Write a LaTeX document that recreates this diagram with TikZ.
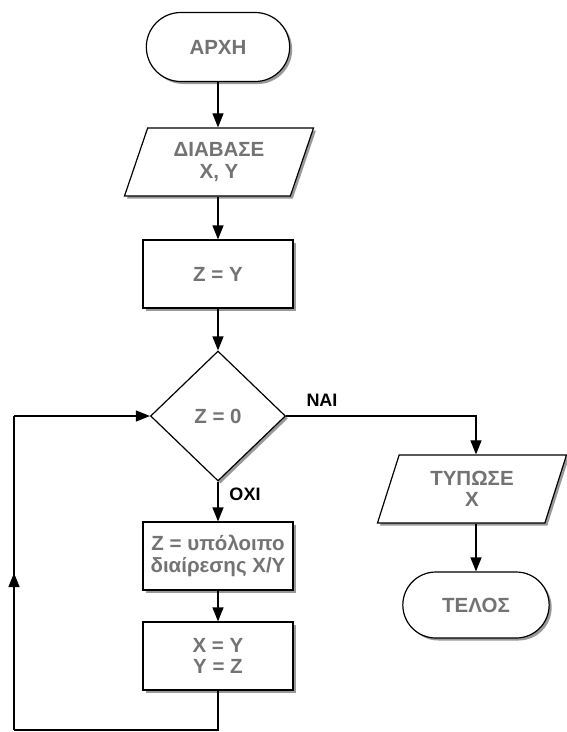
\documentclass[tikz,border=0pt]{standalone}
\usepackage{fontspec}
\setmainfont{Liberation Sans}
\usetikzlibrary{shapes.geometric,shapes.misc,shadows,arrows.meta,decorations.markings}

\begin{document}
\begin{tikzpicture}[x=1pt,y=-1pt,
  every node/.style={font=\bfseries\fontsize{20.5}{21.5}\selectfont, text=black!55, align=center},
  box/.style={draw, line width=1.2pt, fill=white,
    drop shadow={shadow xshift=2.5pt, shadow yshift=-2.5pt, fill=black!40, opacity=1}},
  term/.style={box, rounded rectangle, minimum width=150pt, minimum height=69pt},
  io/.style={box, trapezium, trapezium left angle=63, trapezium right angle=117,
    trapezium stretches body, minimum width=189pt, minimum height=68pt},
  proc/.style={box, rectangle, minimum width=150pt, minimum height=68pt},
  test/.style={box, diamond, minimum width=135pt, minimum height=130pt, inner sep=0pt},
  lbl/.style={text=black, font=\bfseries\fontsize{18}{18}\selectfont},
  line/.style={line width=1.2pt},
  arr/.style={line, -{Triangle[width=11pt,length=14pt]}}]
  \useasboundingbox (0,0) rectangle (566,732);

  %left column
  \node[term] (start) at (218,47) {ΑΡΧΗ};
  \node[io] (read) at (219,162) {ΔΙΑΒΑΣΕ\\X, Y};
  \node[proc] (zy) at (218,274) {Z = Y};
  \node[test] (cond) at (218,416) {Z = 0};
  \node[proc] (rem) at (218,556) {Z = υπόλοιπο\\διαίρεσης X/Y};
  \node[proc] (xy) at (218,656) {X = Y\\Y = Z};

  %right column
  \node[io] (print) at (472,489) {ΤΥΠΩΣΕ\\X};
  \node[term, minimum width=153pt, minimum height=66pt] (stop) at (476,605) {ΤΕΛΟΣ};

  %answers
  \node[lbl] (yes) at (322,400) {ΝΑΙ};
  \node[lbl] (no) at (245,494) {ΟΧΙ};

  \draw[arr] (start.south) -- (start.south |- read.north);
  \draw[arr] (read.south -| zy.north) -- (zy.north);
  \draw[arr] (zy.south) -- (cond.north);
  \draw[arr] (cond.south) -- (rem.north);
  \draw[arr] (rem.south) -- (xy.north);
  \draw[arr] (cond.east) -| (stop.north |- print.north);
  \draw[arr] (stop.north |- print.south) -- (stop.north);

  %loop back
  \coordinate (lb) at (14,730);
  \coordinate (lt) at (14,416);
  \draw[line] (xy.south) |- (lb);
  \draw[line, postaction={decorate}, decoration={markings,
    mark=at position 0.5 with {\arrow{Triangle[width=11pt,length=14pt]}}}] (lb) -- (lt);
  \draw[arr] (lt) -- (cond.west);
\end{tikzpicture}
\end{document}
